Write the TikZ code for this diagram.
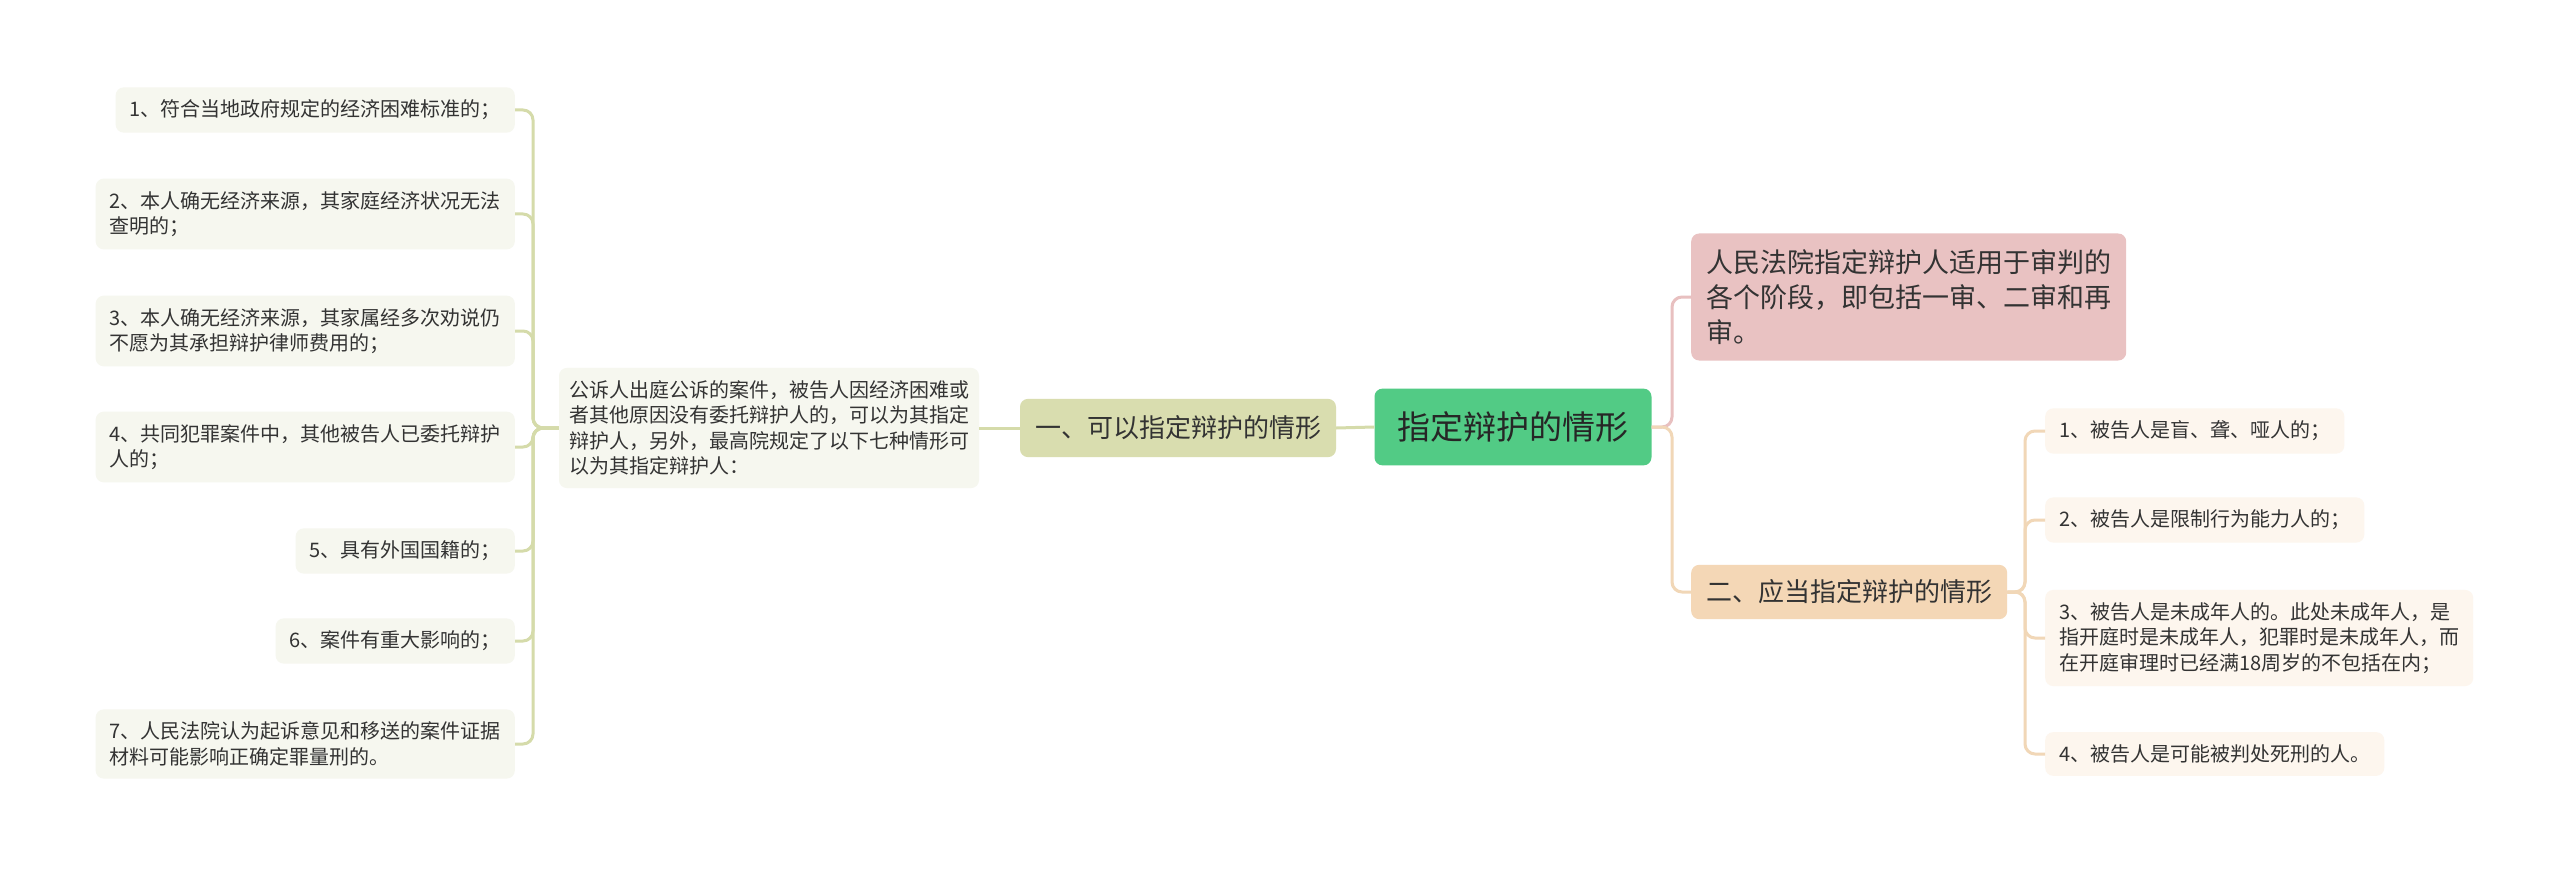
\documentclass[tikz,border=0pt]{standalone}
\usepackage{fontspec}
\setmainfont{Noto Sans CJK SC}
\definecolor{rootfill}{HTML}{52CB85}
\definecolor{onefill}{HTML}{D9DDAF}
\definecolor{leftfill}{HTML}{F6F7EF}
\definecolor{leftline}{HTML}{D5DBAA}
\definecolor{pinkfill}{HTML}{E9C2C2}
\definecolor{pinkline}{HTML}{E8C0C0}
\definecolor{twofill}{HTML}{F4D7B6}
\definecolor{rightfill}{HTML}{FDF6EE}
\definecolor{rightline}{HTML}{F1D7B7}
\definecolor{textgray}{HTML}{333333}
\tikzset{
  box/.style={rounded corners=8pt, text=textgray, align=left},
  small/.style={box, font=\fontsize{20pt}{25.5pt}\selectfont, inner xsep=14pt, inner ysep=12.5pt},
  mid/.style={box, font=\fontsize{26pt}{35pt}\selectfont, inner xsep=15pt, inner ysep=17pt},
  leftitem/.style={small, fill=leftfill, anchor=east},
  rightitem/.style={small, fill=rightfill, anchor=west},
  conn/.style={line width=3pt, rounded corners=10pt},
}
\begin{document}
\begin{tikzpicture}[x=1pt,y=-1pt]
  \useasboundingbox[fill=white] (0,0) rectangle (2560,869);
  % centre and first level
  \node[box, fill=rootfill, text=black!85, font=\fontsize{33pt}{40pt}\selectfont,
        inner xsep=23pt, inner ysep=23pt] (root) at (1513,427) {指定辩护的情形};
  \node[mid, fill=onefill] (one) at (1178,428) {一、可以指定辩护的情形};
  \node[small, fill=leftfill, inner xsep=10pt] (desc) at (769,428)
    {公诉人出庭公诉的案件，被告人因经济困难或\\者其他原因没有委托辩护人的，可以为其指定\\辩护人，另外，最高院规定了以下七种情形可\\以为其指定辩护人：};
  \node[mid, fill=pinkfill, anchor=west, font=\fontsize{27pt}{35pt}\selectfont,
        inner ysep=16pt] (pink) at (1691,297)
    {人民法院指定辩护人适用于审判的\\各个阶段，即包括一审、二审和再\\审。};
  \node[mid, fill=twofill, anchor=west, inner ysep=15pt] (two) at (1691,592) {二、应当指定辩护的情形};
  % left items
  \node[leftitem] (l1) at (515,110) {1、符合当地政府规定的经济困难标准的；};
  \node[leftitem] (l2) at (515,214) {2、本人确无经济来源，其家庭经济状况无法\\查明的；};
  \node[leftitem] (l3) at (515,331) {3、本人确无经济来源，其家属经多次劝说仍\\不愿为其承担辩护律师费用的；};
  \node[leftitem] (l4) at (515,447) {4、共同犯罪案件中，其他被告人已委托辩护\\人的；};
  \node[leftitem] (l5) at (515,551) {5、具有外国国籍的；};
  \node[leftitem] (l6) at (515,641) {6、案件有重大影响的；};
  \node[leftitem] (l7) at (515,744) {7、人民法院认为起诉意见和移送的案件证据\\材料可能影响正确定罪量刑的。};
  % right items
  \node[rightitem] (r1) at (2045,431) {1、被告人是盲、聋、哑人的；};
  \node[rightitem] (r2) at (2045,520) {2、被告人是限制行为能力人的；};
  \node[rightitem] (r3) at (2045,638) {3、被告人是未成年人的。此处未成年人，是\\指开庭时是未成年人，犯罪时是未成年人，而\\在开庭审理时已经满18周岁的不包括在内；};
  \node[rightitem] (r4) at (2045,754) {4、被告人是可能被判处死刑的人。};
  % connectors
  \coordinate (ltrunk) at (533,428);
  \coordinate (rtrunk) at (1672,427);
  \coordinate (ttrunk) at (2025,592);
  \draw[conn, leftline] (root.west) -- (one.east);
  \draw[conn, leftline] (one.west) -- (desc.west -| desc.east);
  \foreach \i in {1,...,7}
    \draw[conn, leftline] (desc.west) -- (ltrunk) |- (l\i.east);
  \draw[conn, pinkline] (root.east) -- (rtrunk) |- (pink.west);
  \draw[conn, rightline] (root.east) -- (rtrunk) |- (two.west);
  \foreach \i in {1,...,4}
    \draw[conn, rightline] (two.east) -- (ttrunk) |- (r\i.west);
\end{tikzpicture}
\end{document}
